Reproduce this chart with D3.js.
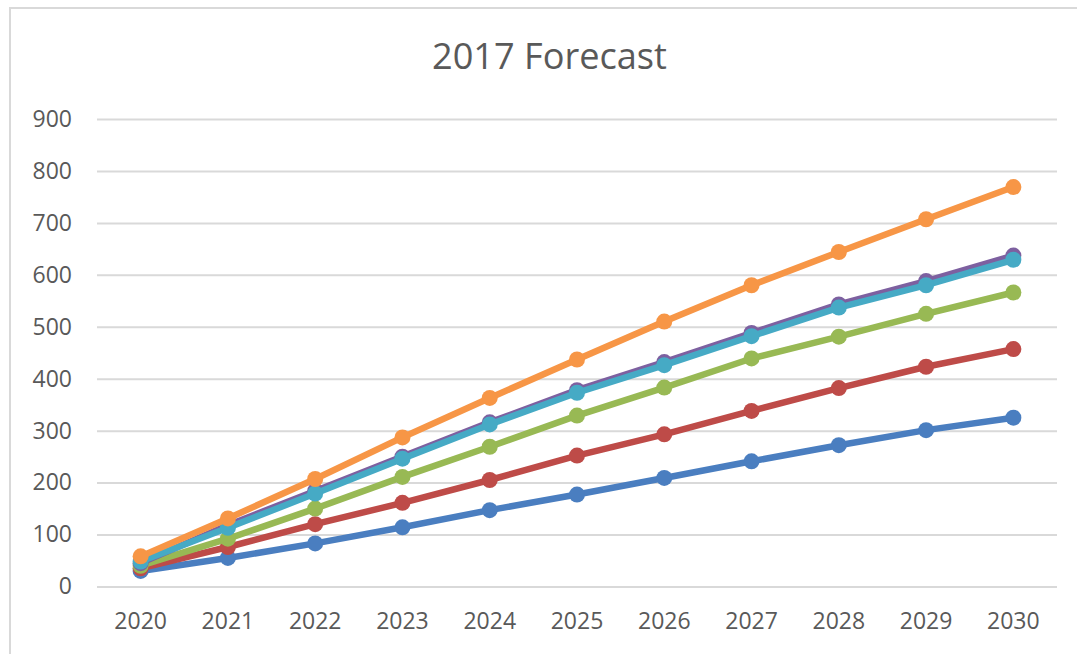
<!DOCTYPE html>
<html>
<head>
<meta charset="utf-8">
<script src="https://cdn.jsdelivr.net/npm/d3@7"></script>
<style>
  html, body { margin: 0; padding: 0; background: #ffffff; }
  svg { display: block; }
</style>
</head>
<body>
<div id="chart"></div>
<script>
const title = "2017 Forecast";
const years = ["2020","2021","2022","2023","2024","2025","2026","2027","2028","2029","2030"];
const yTicks = [0,100,200,300,400,500,600,700,800,900];
const seriesNames = ["Series1","Series2","Series3","Series4","Series5","Series6"];
const seriesColors = ["#4A7EC0","#BE4B48","#98B954","#7D60A0","#46AAC5","#F79646"];
const blueValues   = [30, 55, 83, 114, 147, 177, 209, 241, 272, 301, 325];
const redValues    = [35, 76, 120, 161, 205, 252, 293, 338, 382, 423, 457];
const greenValues  = [40, 92, 150, 211, 269, 329, 383, 439, 481, 525, 566];
const purpleValues = [45, 118, 184, 250, 316, 378, 432, 488, 543, 588, 637];
const tealValues   = [48, 113, 179, 246, 312, 373, 426, 482, 537, 580, 629];
const orangeValues = [58, 131, 207, 287, 363, 437, 510, 580, 644, 707, 769];

const seriesValues = [blueValues, redValues, greenValues, purpleValues, tealValues, orangeValues];

const W = 1077, H = 654;
const plot = { left: 97, right: 1057, top: 119, bottom: 586.5 };
const font = "'Open Sans', 'Noto Sans', sans-serif";

const svg = d3.select("#chart").append("svg")
  .attr("width", W).attr("height", H);

// chart frame
svg.append("rect")
  .attr("x", 10).attr("y", 8)
  .attr("width", 1085).attr("height", 660)
  .attr("fill", "#ffffff")
  .attr("stroke", "#d9d9d9").attr("stroke-width", 2);

const x = d3.scaleBand().domain(years).range([plot.left, plot.right]).padding(0);
const y = d3.scaleLinear().domain([0, 900]).range([plot.bottom, plot.top]);

// gridlines + y labels
const yAxis = d3.axisLeft(y).tickValues(yTicks)
  .tickSize(-(plot.right - plot.left)).tickPadding(25);
const gy = svg.append("g").attr("transform", `translate(${plot.left},0)`).call(yAxis);
gy.select(".domain").remove();
gy.selectAll(".tick line").attr("stroke", "#d9d9d9").attr("stroke-width", 2);
gy.selectAll(".tick text")
  .attr("fill", "#595959")
  .style("font-family", font).style("font-size", "23px");

// x labels
const xAxis = d3.axisBottom(x).tickSize(0).tickPadding(26);
const gx = svg.append("g").attr("transform", `translate(0,${plot.bottom})`).call(xAxis);
gx.select(".domain").remove();
gx.selectAll(".tick text")
  .attr("fill", "#595959")
  .style("font-family", font).style("font-size", "23px");

// series
const line = d3.line()
  .x((d, i) => x(years[i]) + x.bandwidth() / 2)
  .y(d => y(d));

seriesValues.forEach((vals, si) => {
  const g = svg.append("g").attr("class", "series").attr("data-name", seriesNames[si]);
  g.append("path")
    .datum(vals)
    .attr("d", line)
    .attr("fill", "none")
    .attr("stroke", seriesColors[si])
    .attr("stroke-width", 6.5)
    .attr("stroke-linejoin", "round")
    .attr("stroke-linecap", "round");
  g.selectAll("circle")
    .data(vals)
    .join("circle")
    .attr("cx", (d, i) => x(years[i]) + x.bandwidth() / 2)
    .attr("cy", d => y(d))
    .attr("r", 8)
    .attr("fill", seriesColors[si]);
});

// title
const t = svg.append("text")
  .attr("x", 549.5).attr("y", 69)
  .attr("text-anchor", "middle")
  .attr("fill", "#595959")
  .style("font-family", font).style("font-size", "32px")
  .text(title);
const tw = t.node().getComputedTextLength();
if (tw > 0) t.style("font-size", (32 * 235 / tw).toFixed(2) + "px");
</script>
</body>
</html>
